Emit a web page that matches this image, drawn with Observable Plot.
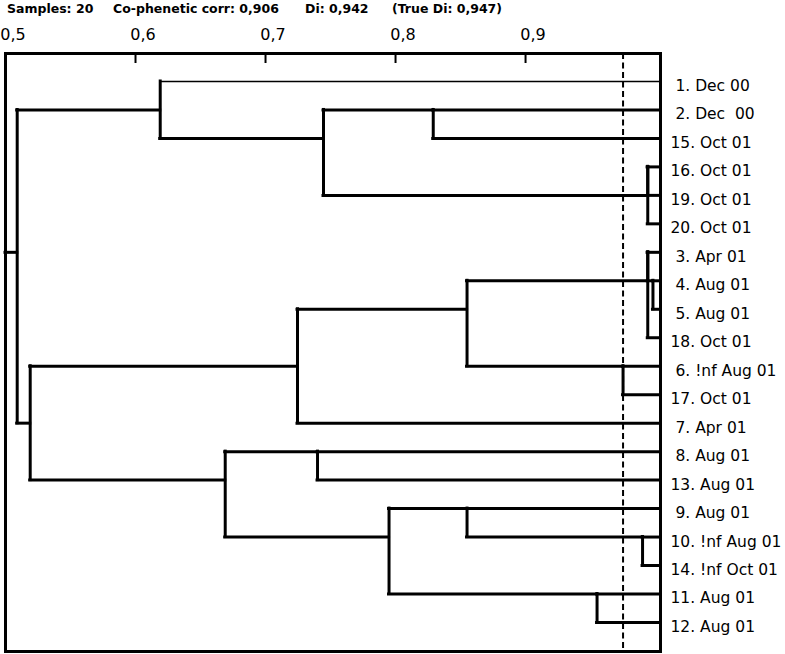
<!DOCTYPE html>
<html>
<head>
<meta charset="utf-8">
<script src="https://cdn.jsdelivr.net/npm/d3@7"></script>
<script src="https://cdn.jsdelivr.net/npm/@observablehq/plot@0.6"></script>
<style>
  html, body { margin: 0; padding: 0; background: #fff; overflow: hidden; }
  #title { position: relative; height: 20px; font-family: "DejaVu Sans", sans-serif; font-weight: bold; font-size: 12.5px; line-height: 17px; color: #000; }
  #title span { position: absolute; top: 0; white-space: pre; }
  svg text { white-space: pre; }
</style>
</head>
<body>
<div id="title"></div>
<div id="chart"></div>
<script>
// ---- data ----
const titleParts = ["Samples: 20", "Co-phenetic corr: 0,906", "Di: 0,942", "(True Di: 0,947)"];

const leafLabels = [
  "1. Dec 00", "2. Dec  00", "15. Oct 01", "16. Oct 01", "19. Oct 01",
  "20. Oct 01", "3. Apr 01", "4. Aug 01", "5. Aug 01", "18. Oct 01",
  "6. !nf Aug 01", "17. Oct 01", "7. Apr 01", "8. Aug 01", "13. Aug 01",
  "9. Aug 01", "10. !nf Aug 01", "14. !nf Oct 01", "11. Aug 01", "12. Aug 01"
];

// merges: leaves are 0..19 (display rows), internal nodes are 20, 21, ... in merge order
const mergeA = [7, 6, 21, 3, 23, 16, 10, 18, 15, 22, 1, 28, 30, 13, 29, 33, 0, 34, 36];
const mergeB = [8, 20, 9, 4, 5, 17, 11, 19, 25, 26, 2, 27, 24, 14, 12, 31, 32, 35, 37];
const mergeLevel = [0.998, 0.994, 0.994, 0.994, 0.994, 0.990, 0.975, 0.955, 0.855, 0.855,
                    0.829, 0.795, 0.7446, 0.740, 0.7246, 0.669, 0.619, 0.519, 0.509];

const xTicks = [0.5, 0.6, 0.7, 0.8, 0.9];
const cutoff = 0.975;

// ---- title ----
const titleLeft = [7, 113, 305, 392];
const titleDiv = document.getElementById("title");
titleParts.forEach((t, i) => {
  const s = document.createElement("span");
  s.textContent = t;
  s.style.left = titleLeft[i] + "px";
  titleDiv.appendChild(s);
});

// ---- build dendrogram segments ----
const xMin = 0.5, xMax = 1.0038;
const nLeaf = leafLabels.length;
const rep = d3.range(nLeaf);
const xpos = d3.range(nLeaf).map(() => xMax);
const parent = {};
mergeA.forEach((a, k) => {
  const b = mergeB[k], id = nLeaf + k;
  rep[id] = Math.floor((rep[a] + rep[b]) / 2);
  xpos[id] = mergeLevel[k];
  parent[a] = id; parent[b] = id;
});
const rootId = nLeaf + mergeA.length - 1;

const horiz = [];
for (let id = 0; id <= rootId; id++) {
  if (id === rootId) {
    horiz.push({x1: xMin, x2: xpos[id], y: rep[id], thin: false});
  } else {
    horiz.push({x1: xpos[parent[id]], x2: xpos[id], y: rep[id], thin: id === 0});
  }
}
const vert = mergeA.map((a, k) => ({x: mergeLevel[k], y1: rep[a], y2: rep[mergeB[k]]}));

const W = 785, H = 634, mT = 33, mB = 3;
const font = "DejaVu Sans";

const chart = Plot.plot({
  width: W,
  height: H,
  marginLeft: 5,
  marginRight: 125,
  marginTop: mT,
  marginBottom: mB,
  x: {domain: [xMin, xMax], axis: null},
  y: {domain: [20.02, -0.983], axis: null},
  style: {fontFamily: font, background: "#fff", color: "#000", overflow: "visible"},
  marks: [
    Plot.ruleX([cutoff], {x: d => d, stroke: "#000", strokeWidth: 2, strokeDasharray: "6,3.5"}),
    Plot.ruleY(horiz.filter(d => !d.thin), {y: "y", x1: "x1", x2: "x2", stroke: "#000", strokeWidth: 3, strokeLinecap: "square"}),
    Plot.ruleY(horiz.filter(d => d.thin), {y: "y", x1: "x1", x2: "x2", stroke: "#000", strokeWidth: 1.3}),
    Plot.ruleX(vert, {x: "x", y1: "y1", y2: "y2", stroke: "#000", strokeWidth: 3, strokeLinecap: "square"}),
    Plot.tickX(xTicks, {x: d => d, stroke: "#000", strokeWidth: 2, insetBottom: (H - mT - mB) - 10}),
    Plot.frame({stroke: "#000", strokeWidth: 3}),
    Plot.text(xTicks, {
      x: d => d, text: d => d.toFixed(1).replace(".", ","),
      frameAnchor: "top", lineAnchor: "middle", dy: -19, dx: 7.5,
      fontSize: 16, fontFamily: font, fill: "#000"
    }),
    Plot.text(leafLabels, {
      y: (d, i) => i,
      text: d => (/^\d\./.test(d) ? "\u00a0" : "") + d,
      frameAnchor: "right", textAnchor: "start", lineAnchor: "middle",
      dx: 10, dy: 4.5, fontSize: 15.5, fontFamily: font, fill: "#000"
    })
  ]
});
document.getElementById("chart").appendChild(chart);
</script>
</body>
</html>
